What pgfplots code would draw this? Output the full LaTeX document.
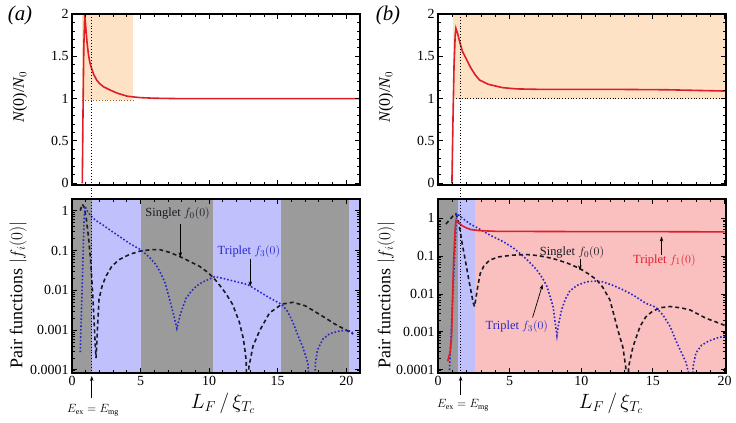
\documentclass[border=0pt]{standalone}
\usepackage{pgfplots}
\pgfplotsset{compat=1.18}
\usepackage{fontspec}
\setmainfont{Liberation Serif}
\usetikzlibrary{arrows.meta}

\definecolor{bggray}{RGB}{155,155,155}
\definecolor{lav}{RGB}{192,192,253}
\definecolor{pinkbg}{RGB}{250,192,192}
\definecolor{orangebg}{RGB}{253,226,198}
\definecolor{redc}{RGB}{222,30,40}
\definecolor{bluec}{RGB}{40,40,200}
\definecolor{singc}{RGB}{25,25,35}

\pgfplotsset{
  common/.style={
    scale only axis, axis on top, clip=true,
    tick align=inside, xtick={0,5,10,15,20}, minor x tick num=4,
    major tick length=5bp, minor tick length=3bp,
    axis line style={line width=1.5bp},
    every tick/.style={black, line width=1bp},
    every minor tick/.style={black, line width=0.8bp},
    tick label style={font=\fontsize{14}{16}\selectfont},
  },
  toppanel/.style={common, height=171bp, ymin=-0.02, ymax=2,
    ytick={0,0.5,1,1.5,2}, yticklabels={0,0.5,1,1.5,2}, minor y tick num=4,
    xticklabel=\empty},
  botpanel/.style={common, height=174bp,
    ytick={1e-4,1e-3,1e-2,1e-1,1}, yticklabels={0.0001,0.001,0.01,0.1,1},
    xticklabels={0,5,10,15,20}},
  redline/.style={redc, line width=1.6bp},
  blueline/.style={bluec, line width=1.6bp, dotted},
  singline/.style={singc, line width=1.6bp, dash pattern=on 4bp off 3bp},
}

\begin{document}
\begin{tikzpicture}[x=1bp,y=1bp]
\useasboundingbox (0,0) rectangle (736,422);

% ---------------- (a) top
\begin{axis}[toppanel, at={(72bp,237bp)}, anchor=south west, width=288bp, xmin=0, xmax=21]
\fill[orangebg] (axis cs:0.75,0.98) rectangle (axis cs:4.45,2);
\draw[orange!70!black, dotted, line width=0.8bp] (axis cs:0.75,0.98) -- (axis cs:4.45,0.98);
\addplot[redline] coordinates {(0.75,0) (0.8,0.8) (0.86,1.6) (0.93,2.0) (1.0,1.85) (1.1,1.66) (1.2,1.52) (1.3,1.43) (1.44,1.35) (1.6,1.28) (1.8,1.22) (2.0,1.18) (2.3,1.14) (2.8,1.10) (3.3,1.065) (4.0,1.03) (4.5,1.02) (5,1.012) (6,1.005) (8,1.0) (12,1.0) (16,1.0) (21,1.0)};
\coordinate (va1) at (axis cs:1.44,2);
\end{axis}

% ---------------- (a) bottom
\begin{semilogyaxis}[botpanel, at={(72bp,49bp)}, anchor=south west, width=288bp, xmin=0, xmax=21, ymin=8.4e-5, ymax=1.96]
\fill[bggray] (axis cs:0,8.4e-5) rectangle (axis cs:1.44,1.96);
\fill[lav] (axis cs:1.44,8.4e-5) rectangle (axis cs:5.0,1.96);
\fill[bggray] (axis cs:5.0,8.4e-5) rectangle (axis cs:10.25,1.96);
\fill[lav] (axis cs:10.25,8.4e-5) rectangle (axis cs:15.25,1.96);
\fill[bggray] (axis cs:15.25,8.4e-5) rectangle (axis cs:20.2,1.96);
\fill[lav] (axis cs:20.2,8.4e-5) rectangle (axis cs:21,1.96);
\addplot[singline] coordinates {(0.6,1.0) (0.75,1.45) (0.9,1.2) (1.05,0.6) (1.2,0.22) (1.35,0.06) (1.48,0.012) (1.6,0.002) (1.7,4e-4) (1.75,2e-4) (1.8,4e-4) (1.85,0.001) (1.97,0.006) (2.2,0.013) (2.46,0.022) (2.9,0.04) (3.44,0.059) (4.2,0.08) (5.0,0.097) (5.8,0.105) (6.4,0.105) (7.1,0.09) (7.8,0.072) (8.5,0.055) (9.3,0.04) (9.8,0.03) (10.3,0.021) (10.8,0.013) (11.2,0.0085) (11.7,0.0045) (12.2,0.0016) (12.5,6e-4) (12.7,1.8e-4) (12.8,1e-6) (12.9,1.2e-4) (13.2,4e-4) (13.7,0.001) (14.4,0.0027) (15.3,0.0045) (16.1,0.005) (17,0.0041) (17.8,0.0028) (18.5,0.002) (19.2,0.0014) (20.0,0.001) (20.5,0.0008)};
\addplot[blueline] coordinates {(0.6,2.8e-4) (0.7,0.004) (0.8,0.06) (0.88,0.6) (0.95,1.3) (1.1,1.0) (1.3,0.8) (1.5,0.66) (1.8,0.55) (2.2,0.45) (2.8,0.32) (3.5,0.22) (4.2,0.15) (5.0,0.105) (5.6,0.07) (6.1,0.045) (6.4,0.03) (6.8,0.015) (7.1,0.0062) (7.4,0.0025) (7.65,0.0011) (7.9,0.0025) (8.3,0.0062) (8.7,0.0095) (9.05,0.0126) (9.5,0.016) (10.0,0.019) (10.4,0.022) (11.0,0.02) (11.8,0.017) (12.8,0.014) (13.5,0.01) (14.3,0.0068) (15.3,0.0044) (15.7,0.003) (16.1,0.0016) (16.5,7e-4) (16.8,4e-4) (17.2,1.5e-4) (17.55,1e-6) (17.75,1.5e-4) (17.9,3.2e-4) (18.3,6e-4) (18.8,8.2e-4) (19.5,9.5e-4) (20.1,1e-3) (20.4,9e-4) (20.5,8e-4)};
\node[font=\fontsize{12.5}{14}\selectfont, singc] at (axis cs:7.7,0.83) {Singlet $f_0(0)$};
\draw[-{Stealth[length=5bp,width=3.5bp]}, line width=0.7bp] (axis cs:7.9,0.45) -- (axis cs:7.9,0.068);
\node[font=\fontsize{12.5}{14}\selectfont, bluec] at (axis cs:12.9,0.095) {Triplet $f_3(0)$};
\draw[-{Stealth[length=5bp,width=3.5bp]}, line width=0.7bp] (axis cs:13.0,0.062) -- (axis cs:13.0,0.0125);
\coordinate (va2) at (axis cs:1.44,8.4e-5);
\end{semilogyaxis}

% ---------------- (b) top
\begin{axis}[toppanel, at={(438bp,237bp)}, anchor=south west, width=288bp, xmin=0, xmax=20.1]
\fill[orangebg] (axis cs:1.07,1.0) rectangle (axis cs:20.1,2);
\draw[black, dotted, line width=0.8bp] (axis cs:1.07,1.0) -- (axis cs:20.1,1.0);
\addplot[redline] coordinates {(0.97,0) (1.05,0.8) (1.12,1.4) (1.2,1.75) (1.25,1.83) (1.35,1.78) (1.5,1.68) (1.7,1.56) (2.0,1.46) (2.3,1.36) (2.6,1.28) (2.9,1.22) (3.5,1.17) (4.5,1.13) (5.5,1.115) (7,1.11) (12,1.11) (16,1.105) (20,1.09)};
\coordinate (vb1) at (axis cs:1.58,2);
\end{axis}

% ---------------- (b) bottom
\begin{semilogyaxis}[botpanel, at={(438bp,49bp)}, anchor=south west, width=288bp, xmin=0, xmax=20.1, ymin=8.3e-5, ymax=3.2]
\fill[bggray] (axis cs:0,8.3e-5) rectangle (axis cs:1.37,3.2);
\fill[lav] (axis cs:1.37,8.3e-5) rectangle (axis cs:2.58,3.2);
\fill[pinkbg] (axis cs:2.58,8.3e-5) rectangle (axis cs:20.1,3.2);
\addplot[singline] coordinates {(0.55,0.7) (0.8,0.9) (1.05,1.15) (1.25,1.3) (1.4,0.9) (1.55,0.45) (1.7,0.2) (1.9,0.08) (2.1,0.03) (2.3,0.012) (2.45,0.006) (2.55,0.0047) (2.65,0.008) (2.8,0.018) (2.95,0.035) (3.2,0.055) (3.6,0.078) (4.2,0.095) (5.2,0.106) (6.2,0.11) (7,0.103) (8,0.087) (9,0.066) (9.9,0.047) (10.5,0.034) (11.06,0.024) (11.5,0.015) (12,0.007) (12.56,0.0011) (12.9,4e-4) (13.1,1.2e-4) (13.2,1e-6) (13.3,1.2e-4) (13.6,4e-4) (14.1,0.0014) (14.5,0.0025) (15,0.0036) (15.6,0.0044) (16.2,0.0047) (17,0.0043) (17.6,0.0038) (18.7,0.0023) (19.3,0.0019) (20,0.0015)};
\addplot[blueline] coordinates {(0.79,8e-5) (0.92,1e-3) (1.05,0.012) (1.18,0.15) (1.3,1.3) (1.45,1.2) (1.7,1.0) (2.0,0.82) (2.3,0.68) (2.7,0.57) (3.5,0.38) (4.55,0.24) (5.2,0.17) (5.7,0.12) (6.3,0.075) (6.9,0.043) (7.3,0.026) (7.6,0.016) (7.85,0.008) (8.04,0.0045) (8.2,0.0015) (8.3,0.0008) (8.4,0.0015) (8.62,0.0038) (8.9,0.0075) (9.2,0.012) (9.7,0.017) (10.36,0.021) (11,0.022) (11.5,0.021) (12.2,0.017) (12.9,0.013) (13.7,0.009) (14.5,0.0057) (15.2,0.0045) (15.7,0.0028) (16.2,0.0014) (16.6,6e-4) (16.9,3.4e-4) (17.3,1.6e-4) (17.5,8e-5) (17.65,1e-6) (17.8,1.2e-4) (18.0,2.8e-4) (18.4,4.5e-4) (18.9,5.8e-4) (19.5,7e-4) (20.1,8e-4)};
\addplot[redline] coordinates {(0.68,1.7e-4) (0.85,3e-4) (0.95,8e-4) (1.02,0.009) (1.08,0.06) (1.14,0.19) (1.2,0.55) (1.25,0.85) (1.35,0.82) (1.5,0.72) (1.72,0.62) (2.0,0.55) (2.3,0.5) (2.9,0.47) (4,0.45) (8,0.445) (12,0.44) (16,0.44) (20,0.435)};
\node[font=\fontsize{12.5}{14}\selectfont, singc] at (axis cs:9.35,0.126) {Singlet $f_0(0)$};
\draw[-{Stealth[length=5bp,width=3.5bp]}, line width=0.7bp] (axis cs:9.9,0.085) -- (axis cs:9.9,0.042);
\node[font=\fontsize{12.5}{14}\selectfont, redc] at (axis cs:15.8,0.078) {Triplet $f_1(0)$};
\draw[-{Stealth[length=5bp,width=3.5bp]}, line width=0.7bp] (axis cs:15.6,0.11) -- (axis cs:15.6,0.33);
\node[font=\fontsize{12.5}{14}\selectfont, bluec] at (axis cs:5.5,0.0014) {Triplet $f_3(0)$};
\draw[-{Stealth[length=5bp,width=3.5bp]}, line width=0.7bp] (axis cs:6.6,0.0024) -- (axis cs:7.3,0.018);
\coordinate (vb2) at (axis cs:1.58,8.3e-5);
\end{semilogyaxis}

% dotted vertical markers
\draw[dotted, line width=0.9bp] (va1) -- ([yshift=-2bp]va2);
\draw[dotted, line width=0.9bp] (vb1) -- ([yshift=-2bp]vb2);
\draw[-{Stealth[length=5bp,width=3.5bp]}, line width=0.7bp] ([yshift=-25bp]va2) -- ([yshift=-3bp]va2);
\draw[-{Stealth[length=5bp,width=3.5bp]}, line width=0.7bp] ([yshift=-22bp]vb2) -- ([yshift=-3bp]vb2);
\node[font=\fontsize{12}{14}\selectfont] at (93,12) {$E_{\rm ex}=E_{\rm mg}$};
\node[font=\fontsize{12}{14}\selectfont] at (463,17) {$E_{\rm ex}=E_{\rm mg}$};

% axis labels
\node[rotate=90, font=\fontsize{16}{18}\selectfont] at (20,325) {\textit{N}(0)/\textit{N}$_0$};
\node[rotate=90, font=\fontsize{16}{18}\selectfont] at (386,325) {\textit{N}(0)/\textit{N}$_0$};
\node[rotate=90, font=\fontsize{18}{20}\selectfont] at (18,127) {Pair functions $|f_i(0)|$};
\node[rotate=90, font=\fontsize{18}{20}\selectfont] at (386,127) {Pair functions $|f_i(0)|$};
\node[font=\fontsize{22}{26}\selectfont] at (223,19) {$L_F\,/\,\xi_{T_c}$};
\node[font=\fontsize{22}{26}\selectfont] at (611,19) {$L_F\,/\,\xi_{T_c}$};
\node[font=\fontsize{21}{24}\selectfont] at (20,407) {\textit{(a)}};
\node[font=\fontsize{21}{24}\selectfont] at (388,407) {\textit{(b)}};
\end{tikzpicture}
\end{document}
